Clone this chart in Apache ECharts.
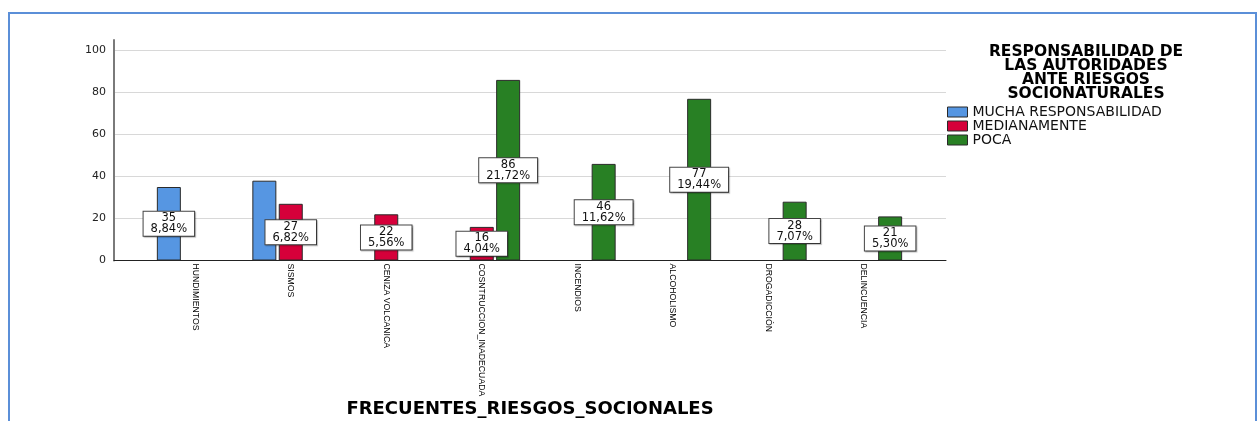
<!DOCTYPE html>
<html>
<head>
<meta charset="utf-8">
<script src="https://cdn.jsdelivr.net/npm/echarts@6/dist/echarts.min.js"></script>
<style>
html,body{margin:0;padding:0;background:#fff;}
#wrap{position:relative;width:1259px;height:421px;overflow:hidden;background:#fff;}
#frame{position:absolute;left:8px;top:12px;width:1249px;height:440px;border:2px solid #5b8fd8;box-sizing:border-box;}
#chart{position:absolute;left:0;top:0;width:1259px;height:421px;}
</style>
</head>
<body>
<div id="wrap"><div id="frame"></div><div id="chart"></div></div>
<script>
// ---- data ----
const categories = ['HUNDIMIENTOS','SISMOS','CENIZA VOLCANICA','COSNTRUCCION_INADECUADA','INCENDIOS','ALCOHOLISMO','DROGADICCIÓN','DELINCUENCIA'];
const seriesNames = ['MUCHA RESPONSABILIDAD','MEDIANAMENTE','POCA'];
const muchaValues = [35, 38, null, null, null, null, null, null];
const medianamenteValues = [null, 27, 22, 16, null, null, null, null];
const pocaValues = [null, null, null, 86, 46, 77, 28, 21];
const hiddenLabels = [[0, 1]]; // [series index, category index] whose label is not drawn
const yTicks = [0, 20, 40, 60, 80, 100];
const xAxisTitle = 'FRECUENTES_RIESGOS_SOCIONALES';
const legendTitle = 'RESPONSABILIDAD DE\nLAS AUTORIDADES\nANTE RIESGOS\nSOCIONATURALES';

// ---- styling ----
const colors = ['#5696e2', '#d6003a', '#288024'];
const allValues = [muchaValues, medianamenteValues, pocaValues];
const total = allValues.flat().reduce((a, v) => a + (v || 0), 0);

function fmtLabel(p) {
  const pct = (p.value / total * 100).toFixed(2).replace('.', ',');
  return p.value + '\n' + pct + '%';
}

const series = allValues.map((vals, si) => ({
  name: seriesNames[si],
  type: 'bar',
  xAxisIndex: 1,
  yAxisIndex: 1,
  barWidth: 24,
  barGap: '10%',
  itemStyle: { color: colors[si], borderColor: '#2a2a2a', borderWidth: 1 },
  label: {
    show: true,
    position: 'inside',
    formatter: fmtLabel,
    color: '#111',
    fontFamily: 'DejaVu Sans',
    fontSize: 11.5,
    lineHeight: 11,
    backgroundColor: '#fff',
    borderColor: '#444',
    borderWidth: 1,
    padding: [1, 7, 1, 7],
    shadowColor: 'rgba(0,0,0,0.25)',
    shadowOffsetX: 1,
    shadowOffsetY: 1,
    shadowBlur: 1
  },
  data: vals.map((v, ci) => {
    const hidden = hiddenLabels.some(h => h[0] === si && h[1] === ci);
    return hidden ? { value: v, label: { show: false } } : v;
  })
}));

const chart = echarts.init(document.getElementById('chart'), null, { renderer: 'canvas' });
chart.setOption({
  animation: false,
  backgroundColor: 'transparent',
  title: {
    text: legendTitle,
    left: 1086,
    top: 45,
    textAlign: 'center',
    padding: 0,
    textStyle: { fontFamily: 'DejaVu Sans', fontWeight: 'bold', fontSize: 15.5, lineHeight: 14, color: '#000' }
  },
  legend: {
    orient: 'vertical',
    left: 947,
    top: 105,
    padding: 0,
    icon: 'rect',
    itemWidth: 20,
    itemHeight: 10,
    itemGap: 0,
    data: seriesNames,
    itemStyle: { borderColor: '#2a2a2a', borderWidth: 1 },
    textStyle: { fontFamily: 'DejaVu Sans', fontSize: 14, lineHeight: 14, color: '#111' }
  },
  grid: [
    { left: 114, right: 313, top: 40, bottom: 160.5, outerBoundsMode: 'none', containLabel: false },
    { left: 147.5, width: 764, top: 40, bottom: 160.5, outerBoundsMode: 'none', containLabel: false }
  ],
  xAxis: [
    {
      gridIndex: 0, type: 'value', min: 0, max: 1,
      axisLine: { show: true, onZero: false, lineStyle: { color: '#222', width: 1 } },
      axisTick: { show: false }, axisLabel: { show: false }, splitLine: { show: false },
      name: xAxisTitle, nameLocation: 'middle', nameGap: 140,
      nameTextStyle: { fontFamily: 'DejaVu Sans', fontWeight: 'bold', fontSize: 18, color: '#000' }
    },
    {
      gridIndex: 1, type: 'category', data: categories,
      axisLine: { show: false }, axisTick: { show: false }, splitLine: { show: false },
      axisLabel: {
        interval: 0, rotate: -90, margin: 3,
        fontFamily: "'Liberation Sans', Arial, sans-serif",
        fontSize: 8.7, color: '#000'
      }
    }
  ],
  yAxis: [
    {
      gridIndex: 0, type: 'value', min: yTicks[0], max: yTicks[yTicks.length - 1] + 5,
      interval: yTicks[1] - yTicks[0],
      axisLine: { show: true, lineStyle: { color: '#7a7a7a', width: 2 } },
      axisTick: { show: false },
      axisLabel: { showMaxLabel: false, margin: 8, fontFamily: 'DejaVu Sans', fontSize: 11, color: '#222' },
      splitLine: { show: true, showMaxLine: false, lineStyle: { color: '#d8d8d8', width: 1 } }
    },
    {
      gridIndex: 1, type: 'value', min: yTicks[0], max: yTicks[yTicks.length - 1] + 5,
      show: false, splitLine: { show: false }
    }
  ],
  series: series
});
</script>
</body>
</html>
